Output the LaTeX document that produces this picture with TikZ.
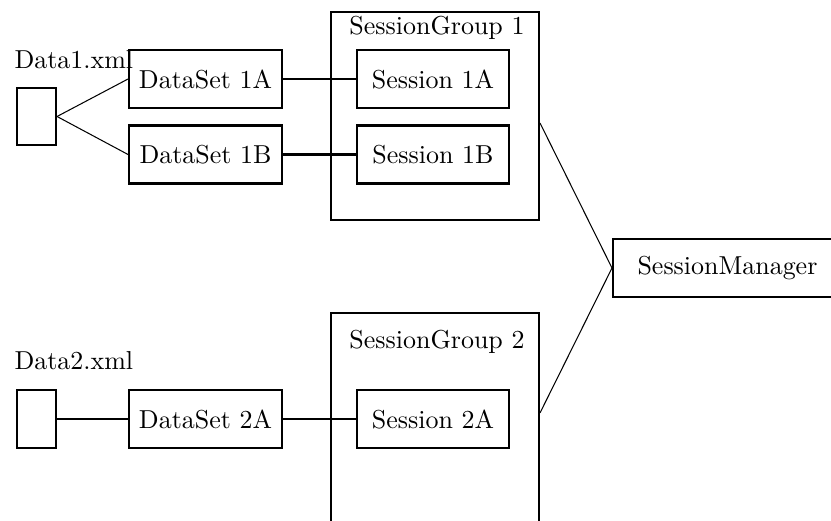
\documentclass[tikz,border=0pt]{standalone}
\usetikzlibrary{calc}
\begin{document}
\begin{tikzpicture}[x=0.3853pt,y=-0.3853pt,
  box/.style={draw,line width=0.8pt,rectangle,inner sep=0pt,font=\normalsize},
  filebox/.style={box,minimum width=15.03pt,minimum height=22.2pt},
  dsbox/.style={box,minimum width=58.9pt,minimum height=22.35pt},
  sessbox/.style={box,minimum width=58.6pt,minimum height=22.35pt},
  grpbox/.style={box,minimum width=80.14pt},
  label/.style={inner sep=0pt},
  thick link/.style={line width=0.8pt},
  thin link/.style={line width=0.4pt}]
\useasboundingbox (0,0) rectangle (831,521);
\clip (0,0) rectangle (831,521);

% session groups
\node[grpbox,minimum height=80.14pt] (sg1) at (435,116) {};
\node[grpbox,minimum height=86.7pt] (sg2) at (435,425.5) {};
\node[label,anchor=base] (sg1t) at (437,35) {SessionGroup 1};
\node[label,anchor=base] (sg2t) at (437,349) {SessionGroup 2};

% files
\node[filebox] (d1) at (36.5,116.5) {};
\node[filebox] (d2) at (36.5,419) {};
\node[label,anchor=base west] (d1t) at (14,69) {Data1.xml};
\node[label,anchor=base west] (d2t) at (14,370) {Data2.xml};

% datasets
\node[dsbox] (ds1a) at (205.5,79) {DataSet 1A};
\node[dsbox] (ds1b) at (205.5,154.5) {DataSet 1B};
\node[dsbox] (ds2a) at (205.5,419) {DataSet 2A};

% sessions
\node[sessbox] (s1a) at (433,79) {Session 1A};
\node[sessbox] (s1b) at (433,154.5) {Session 1B};
\node[sessbox] (s2a) at (433,419) {Session 2A};

% manager
\node[box,minimum width=88.2pt,minimum height=22.35pt] (sm) at (727.5,268) {SessionManager};

% connectors
\draw[thin link] (d1.east) -- (ds1a.west);
\draw[thin link] (d1.east) -- (ds1b.west);
\draw[thick link] (d2.east) -- (ds2a.west);
\draw[thick link] (ds1a.east) -- (s1a.west);
\draw[thick link] (ds1b.east) -- (s1b.west);
\draw[thick link] (ds2a.east) -- (s2a.west);
\coordinate (g1p) at ($(sg1.north east)!111/208!(sg1.south east)$);
\coordinate (g2p) at ($(sg2.north east)!100/225!(sg2.south east)$);
\draw[thin link] (g1p) -- (sm.west);
\draw[thin link] (g2p) -- (sm.west);
\end{tikzpicture}
\end{document}
